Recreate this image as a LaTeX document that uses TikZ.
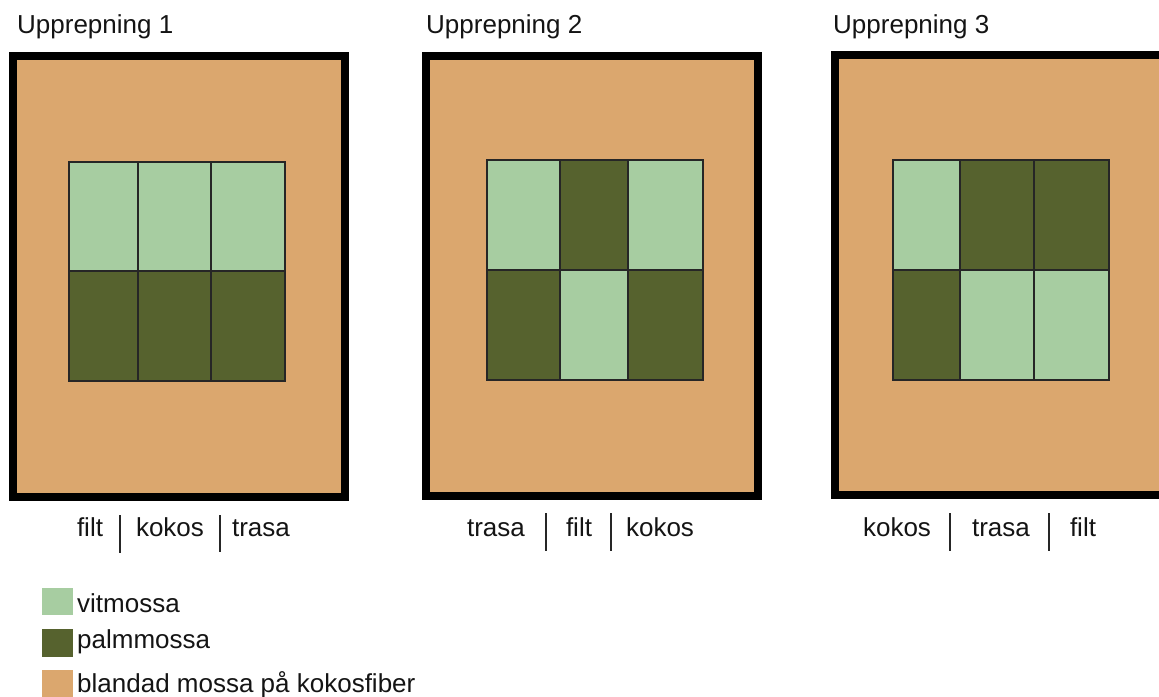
\documentclass[tikz,border=0pt]{standalone}
\usepackage{fontspec}
\setmainfont{Liberation Sans}
\definecolor{tan}{RGB}{219,167,110}
\definecolor{lightg}{RGB}{167,205,161}
\definecolor{darkg}{RGB}{86,98,46}
\definecolor{txt}{RGB}{20,20,20}
\tikzset{
  frame/.style={draw=black, line width=8pt, fill=tan},
  cell/.style={draw=black!85, line width=1.5pt},
  lbl/.style={inner sep=0pt, text=txt, font=\fontsize{26}{30}\selectfont},
  sep/.style={draw=black!85, line width=2pt},
  swatch/.style={draw=none}
}
\begin{document}
\begin{tikzpicture}[x=1pt,y=-1pt]
\useasboundingbox (0,0) rectangle (1159,696);
\clip (0,0) rectangle (1159,696);
% titles
\node[lbl, anchor=base west] (t1) at (17,33) {Upprepning 1};
\node[lbl, anchor=base west] (t2) at (426,33) {Upprepning 2};
\node[lbl, anchor=base west] (t3) at (833,33) {Upprepning 3};
% frames
\path[frame] (12.5,55.5) rectangle (345,496.5);
\path[frame] (426,55.5) rectangle (758,495.5);
\path[frame] (835,55) rectangle (1167,495);
% grid 1
\path[cell, fill=lightg] (69,162) rectangle (138,271);
\path[cell, fill=lightg] (138,162) rectangle (211,271);
\path[cell, fill=lightg] (211,162) rectangle (285,271);
\path[cell, fill=darkg] (69,271) rectangle (138,381);
\path[cell, fill=darkg] (138,271) rectangle (211,381);
\path[cell, fill=darkg] (211,271) rectangle (285,381);
% grid 2
\path[cell, fill=lightg] (487,160) rectangle (560,270);
\path[cell, fill=darkg] (560,160) rectangle (628,270);
\path[cell, fill=lightg] (628,160) rectangle (703,270);
\path[cell, fill=darkg] (487,270) rectangle (560,380);
\path[cell, fill=lightg] (560,270) rectangle (628,380);
\path[cell, fill=darkg] (628,270) rectangle (703,380);
% grid 3
\path[cell, fill=lightg] (893,160) rectangle (960,270);
\path[cell, fill=darkg] (960,160) rectangle (1034,270);
\path[cell, fill=darkg] (1034,160) rectangle (1109,270);
\path[cell, fill=darkg] (893,270) rectangle (960,380);
\path[cell, fill=lightg] (960,270) rectangle (1034,380);
\path[cell, fill=lightg] (1034,270) rectangle (1109,380);
% bottom labels 1
\node[lbl, anchor=base] (a1) at (90,536) {filt};
\node[lbl, anchor=base] (a2) at (170,536) {kokos};
\node[lbl, anchor=base] (a3) at (261,536) {trasa};
\coordinate (s1t) at (120,515); \coordinate (s1b) at (120,553);
\coordinate (s2t) at (219.5,515); \coordinate (s2b) at (219.5,552);
\draw[sep] (s1t) -- (s1b);
\draw[sep] (s2t) -- (s2b);
% bottom labels 2
\node[lbl, anchor=base] (b1) at (496,536) {trasa};
\node[lbl, anchor=base] (b2) at (579,536) {filt};
\node[lbl, anchor=base] (b3) at (660,536) {kokos};
\coordinate (s3t) at (545.5,513); \coordinate (s3b) at (545.5,551);
\coordinate (s4t) at (610.5,513); \coordinate (s4b) at (610.5,551);
\draw[sep] (s3t) -- (s3b);
\draw[sep] (s4t) -- (s4b);
% bottom labels 3
\node[lbl, anchor=base] (c1) at (897,536) {kokos};
\node[lbl, anchor=base] (c2) at (1001,536) {trasa};
\node[lbl, anchor=base] (c3) at (1083,536) {filt};
\coordinate (s5t) at (950,513); \coordinate (s5b) at (950,551);
\coordinate (s6t) at (1049,513); \coordinate (s6b) at (1049,551);
\draw[sep] (s5t) -- (s5b);
\draw[sep] (s6t) -- (s6b);
% legend
\path[swatch, fill=lightg] (41.5,587.5) rectangle (73,615);
\path[swatch, fill=darkg] (41.5,628.5) rectangle (73,657);
\path[swatch, fill=tan] (41.5,670) rectangle (73,700);
\node[lbl, anchor=base west] (l1) at (77,612) {vitmossa};
\node[lbl, anchor=base west] (l2) at (77,648) {palmmossa};
\node[lbl, anchor=base west] (l3) at (77,692) {blandad mossa på kokosfiber};
\end{tikzpicture}
\end{document}
